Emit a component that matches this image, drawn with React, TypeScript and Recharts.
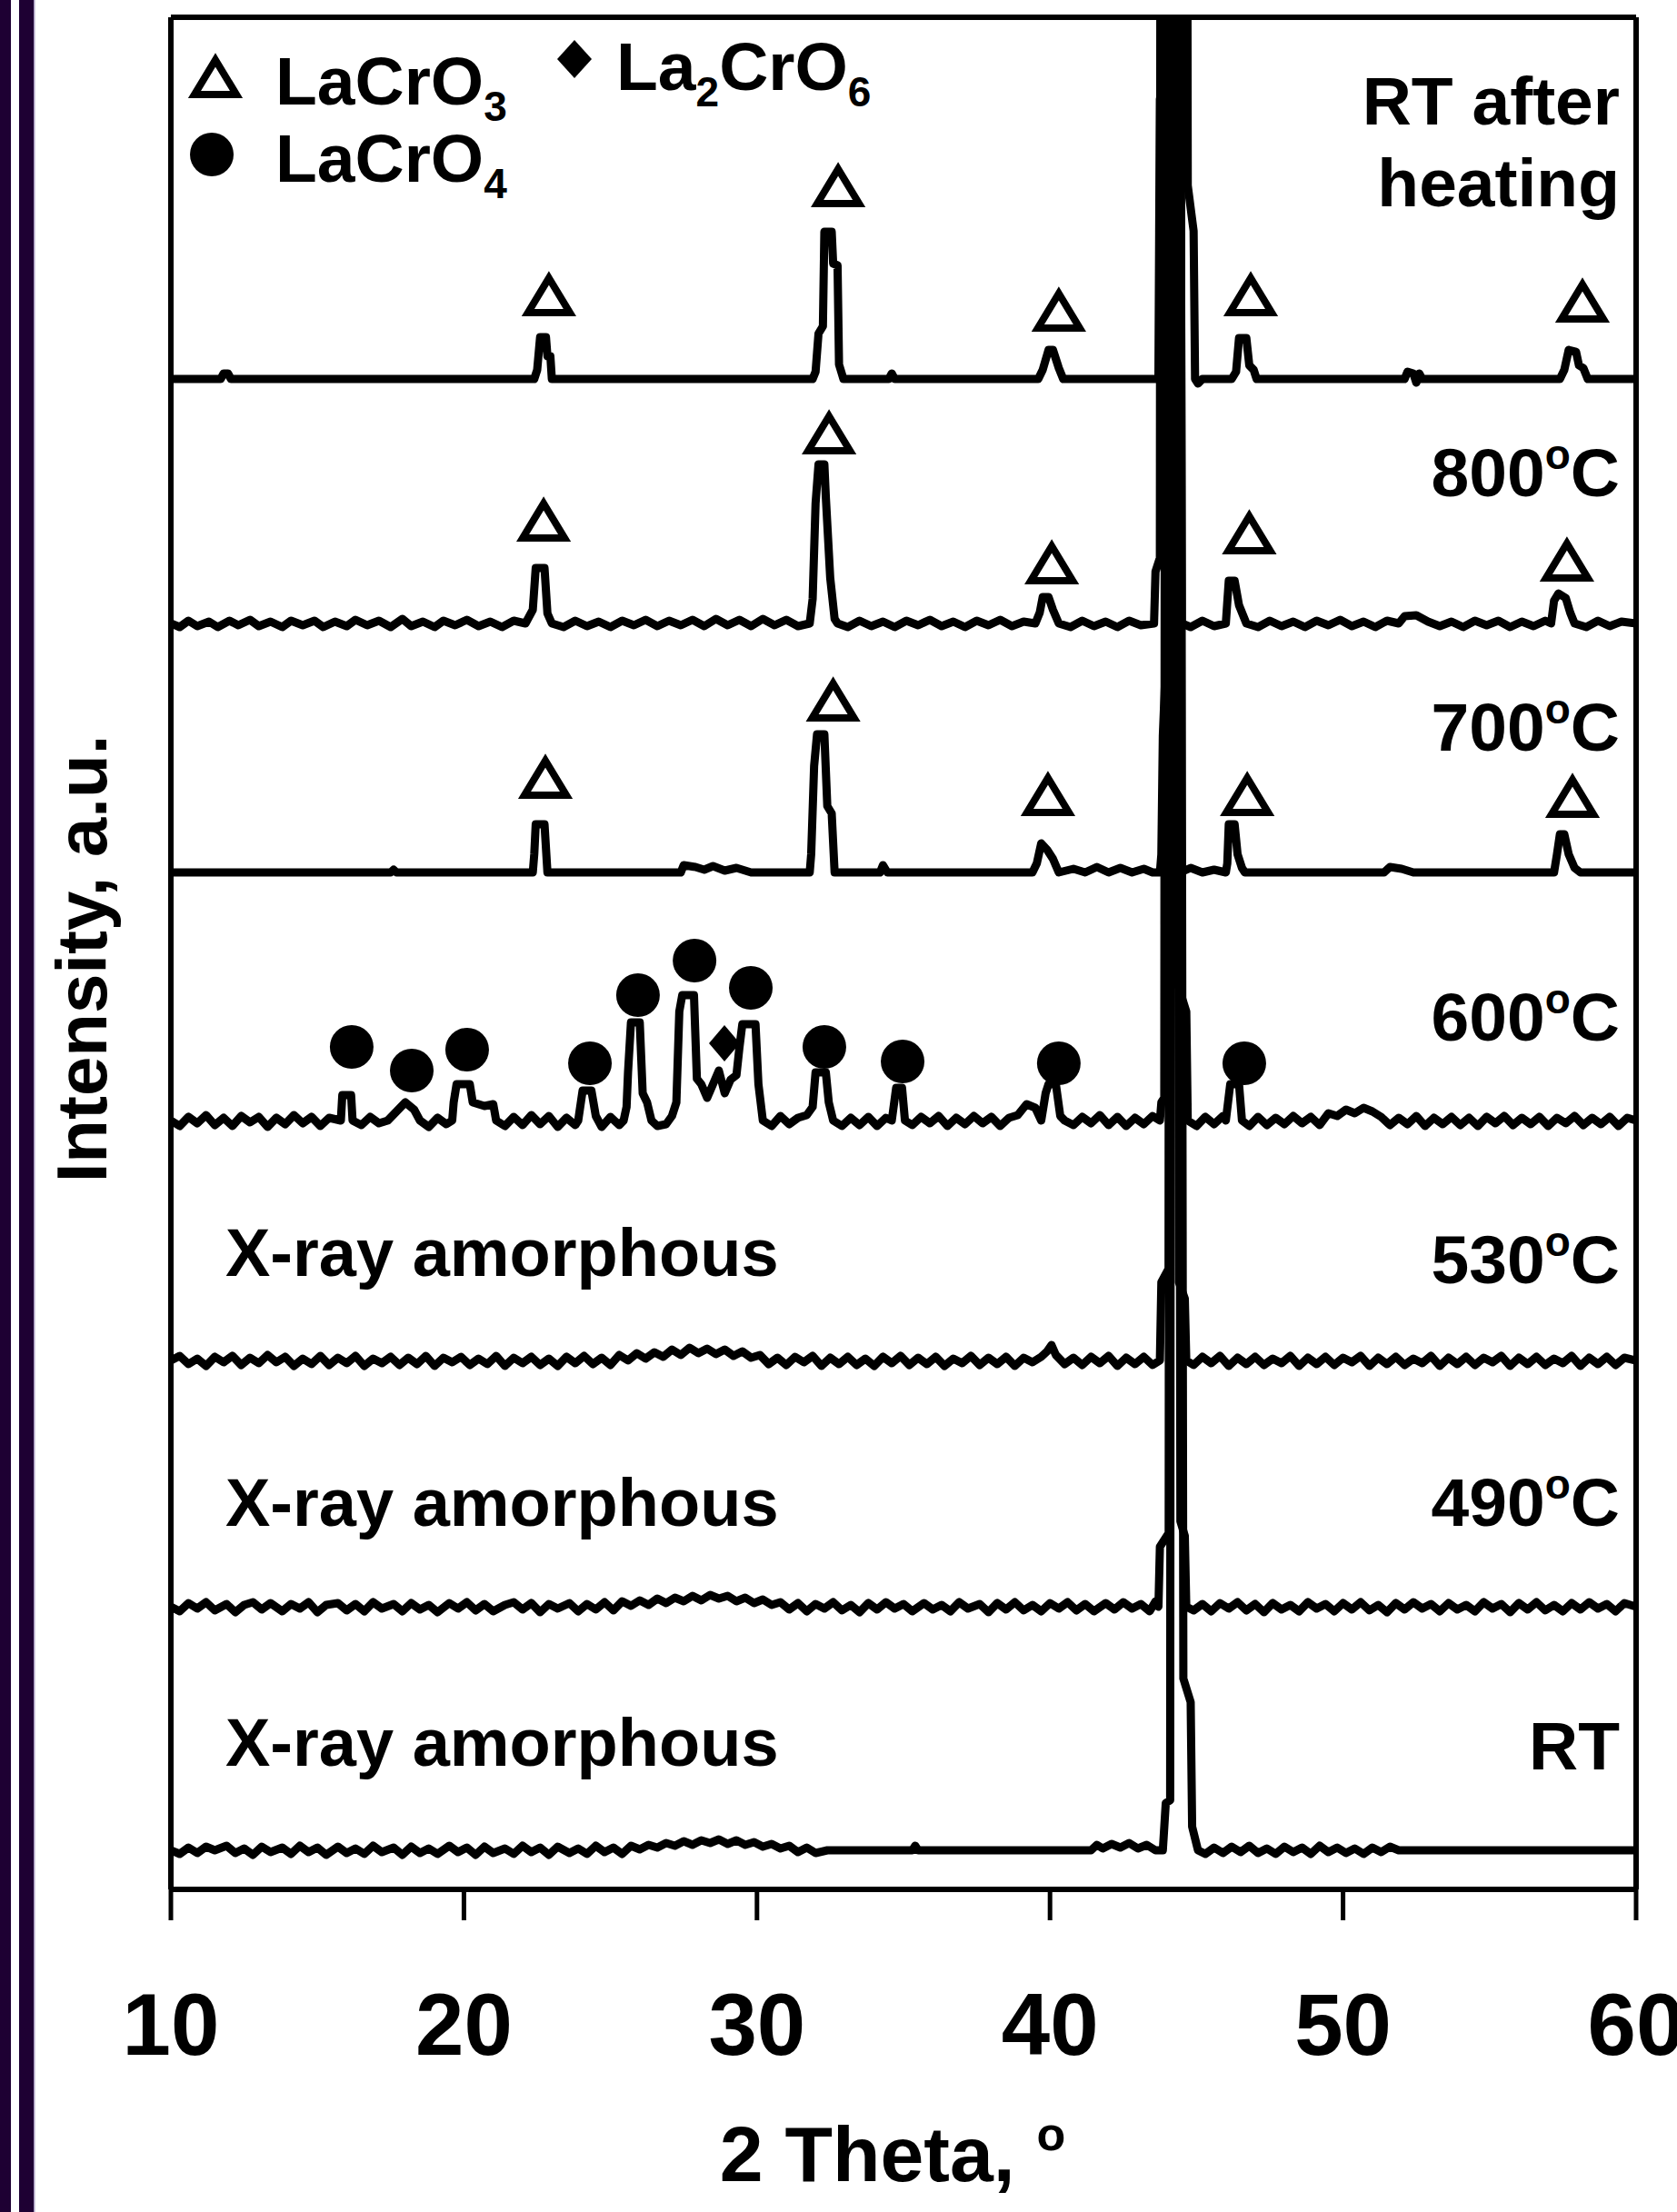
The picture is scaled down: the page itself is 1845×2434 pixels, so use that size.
import React from 'react';
import { ComposedChart, Line, Scatter, XAxis, YAxis, ReferenceLine } from 'recharts';

type Pt = [number, number];

const FONT = '"Liberation Sans", Arial, Helvetica, sans-serif';

const xTicks = [10, 20, 30, 40, 50, 60];

// baseline of each pattern above the 2θ axis (same a.u. as the intensities)
const offsetRtAfter = 1662;
const offset800 = 1393;
const offset700 = 1119;
const offset600 = 846;
const offset530 = 582;
const offset490 = 311;
const offsetRt = 43;

// [2θ, intensity above its own baseline]
const rtAfterHeating: Pt[] = [
  [10, 0], [11, 0], [11.7, 0], [11.8, 6], [11.95, 6], [12.05, 0], [14, 0], [16, 0], [18, 0], [20, 0], [22, 0],
  [22.4, 0], [22.5, 10], [22.6, 46], [22.8, 46], [22.85, 25], [22.95, 25], [23.0, 0], [25, 0], [27, 0], [29, 0],
  [31, 0], [31.9, 0], [32.0, 8], [32.1, 50], [32.25, 58], [32.3, 162], [32.55, 162], [32.6, 127], [32.75, 125],
  [32.8, 16], [32.95, 0], [34.5, 0], [34.6, 6], [34.7, 0], [36, 0], [38, 0], [39.6, 0], [39.75, 10], [39.95, 32],
  [40.1, 32], [40.3, 12], [40.45, 0], [42, 0], [43.7, 0], [43.75, 308], [44.05, 319], [44.1, 2200], [44.6, 2200],
  [44.7, 213], [44.9, 163], [44.95, 0], [45.05, -5], [45.2, 0], [46.2, 0], [46.35, 8], [46.45, 45], [46.7, 45],
  [46.8, 15], [46.95, 10], [47.05, 0], [48, 0], [50, 0], [52.1, 0], [52.2, 8], [52.4, 6], [52.5, -4], [52.6, 6],
  [52.7, 0], [54, 0], [56, 0], [57.4, 0], [57.55, 10], [57.7, 32], [57.95, 30], [58.05, 15], [58.2, 12], [58.35, 0],
  [59, 0], [60, 0],
];

const heated800: Pt[] = [
  [10, 0], [10.3, -4], [10.6, 3], [10.9, -3], [11.3, 2], [11.6, -4], [12.0, 3], [12.3, -2], [12.7, 4], [13.0, -3],
  [13.4, 2], [13.8, -4], [14.1, 3], [14.5, -2], [14.9, 3], [15.2, -4], [15.6, 2], [16.0, -3], [16.3, 4], [16.7, -2],
  [17.1, 3], [17.5, -4], [17.9, 5], [18.2, -3], [18.6, 2], [19.0, -4], [19.3, 3], [19.7, -2], [20.1, 4], [20.5, -3],
  [20.9, 2], [21.3, -4], [21.7, 3], [22.1, 0], [22.35, 15], [22.45, 61], [22.75, 61], [22.85, 11], [23.0, 0],
  [23.4, -4], [23.8, 3], [24.2, -3], [24.6, 2], [25.0, -4], [25.4, 3], [25.8, -2], [26.2, 4], [26.6, -3], [27.0, 3],
  [27.4, -2], [27.8, 4], [28.2, -3], [28.6, 5], [29.0, -2], [29.4, 4], [29.8, -3], [30.2, 5], [30.6, -2], [31.0, 4],
  [31.4, -3], [31.8, 0], [31.9, 27], [32.0, 132], [32.1, 175], [32.3, 175], [32.35, 139], [32.5, 50], [32.65, 5],
  [32.75, 0], [33.1, -4], [33.5, 3], [33.9, -3], [34.3, 2], [34.7, -4], [35.1, 3], [35.5, -2], [35.9, 4], [36.3, -3],
  [36.7, 2], [37.1, -4], [37.5, 3], [37.9, -2], [38.3, 4], [38.7, -3], [39.1, 2], [39.5, 0], [39.65, 12], [39.75, 29],
  [39.95, 29], [40.1, 15], [40.3, 0], [40.7, -4], [41.1, 3], [41.5, -3], [41.9, 2], [42.3, -4], [42.7, 3], [43.1, -2],
  [43.55, 0], [43.6, 57], [43.75, 72], [43.8, 2200], [44.35, 2200], [44.5, 0], [44.8, -4], [45.2, 3], [45.6, -3],
  [46.0, 0], [46.1, 47], [46.3, 47], [46.45, 20], [46.6, 8], [46.7, 0], [47.1, -4], [47.5, 3], [47.9, -3], [48.3, 2],
  [48.7, -4], [49.1, 3], [49.5, -2], [49.9, 4], [50.3, -3], [50.7, 2], [51.1, -4], [51.5, 3], [51.9, 0], [52.1, 8],
  [52.5, 9], [52.9, 2], [53.3, -3], [53.7, 2], [54.1, -4], [54.5, 3], [54.9, -2], [55.3, 3], [55.7, -4], [56.1, 2],
  [56.5, -3], [56.9, 3], [57.1, 0], [57.2, 25], [57.35, 33], [57.6, 28], [57.75, 12], [57.9, 0], [58.3, -4],
  [58.7, 3], [59.1, -3], [59.5, 2], [60, 0],
];

const heated700: Pt[] = [
  [10, 0], [12, 0], [14, 0], [16, 0], [17.5, 0], [17.6, 3], [17.7, 0], [19, 0], [21, 0], [22.35, 0], [22.4, 20],
  [22.45, 53], [22.75, 53], [22.85, 0], [24, 0], [26, 0], [27.4, 0], [27.5, 8], [27.9, 6], [28.2, 3], [28.5, 7],
  [28.9, 2], [29.3, 5], [29.8, 0], [31, 0], [31.8, 0], [31.85, 20], [31.95, 117], [32.05, 152], [32.3, 152],
  [32.4, 73], [32.55, 65], [32.65, 0], [34.2, 0], [34.3, 8], [34.45, 0], [36, 0], [38, 0], [39.4, 0], [39.55, 10],
  [39.7, 32], [39.9, 25], [40.1, 15], [40.3, 0], [40.8, 4], [41.2, 0], [41.6, 6], [42.0, 0], [42.4, 5], [42.8, 0],
  [43.2, 4], [43.5, 0], [43.75, 0], [43.8, 20], [43.85, 150], [44.0, 270], [44.05, 2200], [44.3, 2200], [44.45, 0],
  [44.8, 5], [45.2, 0], [45.6, 3], [46.0, 0], [46.05, 10], [46.1, 53], [46.3, 53], [46.4, 20], [46.55, 5],
  [46.65, 0], [48, 0], [50, 0], [51.4, 0], [51.6, 6], [52.0, 4], [52.4, 0], [54, 0], [56, 0], [57.2, 0], [57.3, 20],
  [57.4, 42], [57.55, 42], [57.7, 20], [57.9, 5], [58.1, 0], [59, 0], [60, 0],
];

const heated600: Pt[] = [
  [10, 0], [10.3, -6], [10.6, 4], [10.9, -3], [11.2, 6], [11.5, -5], [11.8, 3], [12.1, -6], [12.4, 5], [12.7, -2],
  [13.0, 4], [13.3, -7], [13.6, 3], [13.9, -4], [14.2, 6], [14.5, -3], [14.8, 4], [15.1, -6], [15.4, 3], [15.8, 0],
  [15.85, 28], [16.15, 28], [16.2, 0], [16.5, -5], [16.8, 4], [17.1, -3], [17.4, 0], [17.7, 10], [18.0, 20],
  [18.3, 12], [18.5, 0], [18.8, -7], [19.1, 3], [19.4, -4], [19.6, 0], [19.65, 20], [19.75, 40], [20.2, 40],
  [20.3, 20], [20.7, 16], [21.0, 18], [21.1, 0], [21.4, -6], [21.7, 4], [22.0, -5], [22.3, 6], [22.6, -4], [22.9, 5],
  [23.2, -7], [23.5, 3], [23.8, -5], [23.9, 0], [24.05, 33], [24.35, 33], [24.5, 5], [24.7, -7], [25.0, 4],
  [25.3, -5], [25.45, 0], [25.55, 15], [25.6, 53], [25.7, 108], [26.0, 108], [26.1, 30], [26.25, 20], [26.4, 0],
  [26.6, -6], [26.9, -4], [27.1, 5], [27.25, 20], [27.35, 120], [27.45, 138], [27.85, 138], [27.95, 46], [28.1, 40],
  [28.3, 25], [28.5, 40], [28.7, 55], [28.9, 30], [29.1, 45], [29.3, 50], [29.4, 80], [29.5, 106], [29.95, 106],
  [30.05, 40], [30.2, 0], [30.5, -6], [30.8, 5], [31.1, -4], [31.4, 3], [31.7, 6], [31.9, 15], [32.0, 53],
  [32.35, 53], [32.45, 20], [32.6, 0], [32.9, -6], [33.2, 3], [33.5, -5], [33.8, 4], [34.1, -6], [34.4, 3],
  [34.6, 0], [34.75, 36], [34.95, 36], [35.05, 0], [35.3, -5], [35.6, 4], [35.9, -3], [36.2, 5], [36.5, -6],
  [36.8, 3], [37.1, -4], [37.4, 5], [37.7, -3], [38.0, 4], [38.3, -6], [38.6, 3], [38.9, 6], [39.2, 18], [39.5, 14],
  [39.7, 0], [39.85, 30], [39.95, 40], [40.2, 40], [40.35, 5], [40.5, 0], [40.8, -5], [41.1, 4], [41.4, -3],
  [41.7, 6], [42.0, -5], [42.3, 4], [42.6, -6], [42.9, 3], [43.2, -4], [43.5, 5], [43.75, 0], [43.8, 20],
  [43.9, 25], [43.95, 2200], [44.25, 2200], [44.3, 156], [44.65, 120], [44.7, 0], [45.0, -6], [45.3, 4], [45.6, -4],
  [45.9, 5], [46.0, 0], [46.15, 40], [46.45, 40], [46.55, 0], [46.8, -6], [47.1, 4], [47.4, -5], [47.7, 3],
  [48.0, -4], [48.3, 5], [48.6, -3], [48.9, 4], [49.2, -5], [49.5, 8], [49.8, 5], [50.1, 12], [50.4, 8], [50.7, 14],
  [51.0, 10], [51.3, 4], [51.6, -5], [51.9, 3], [52.2, -4], [52.5, 5], [52.8, -6], [53.1, 3], [53.4, -4], [53.7, 4],
  [54.0, -5], [54.3, 3], [54.6, -6], [54.9, 4], [55.2, -3], [55.5, 5], [55.8, -5], [56.1, 3], [56.4, -4], [56.7, 4],
  [57.0, -6], [57.3, 3], [57.6, -3], [57.9, 5], [58.2, -5], [58.5, 3], [58.8, -4], [59.1, 4], [59.4, -6], [59.7, 3],
  [60, 0],
];

const heated530: Pt[] = [
  [10, 0], [10.3, 5], [10.6, -4], [10.9, 2], [11.2, -6], [11.5, 4], [11.8, -2], [12.1, 5], [12.4, -5], [12.7, 3],
  [13.0, -3], [13.3, 6], [13.6, -2], [13.9, 4], [14.2, -6], [14.5, 2], [14.8, -4], [15.1, 5], [15.4, -5], [15.7, 3],
  [16.0, -3], [16.3, 5], [16.6, -6], [16.9, 2], [17.2, -3], [17.5, 4], [17.8, -5], [18.1, 3], [18.4, -4], [18.7, 5],
  [19.0, -6], [19.3, 3], [19.6, -2], [19.9, 4], [20.2, -5], [20.5, 2], [20.8, -4], [21.1, 5], [21.4, -6], [21.7, 3],
  [22.0, -3], [22.3, 4], [22.6, -5], [22.9, 2], [23.2, -6], [23.5, 4], [23.8, -3], [24.1, 5], [24.4, -4], [24.7, 3],
  [25.0, -5], [25.3, 6], [25.6, 0], [25.9, 8], [26.2, 2], [26.5, 9], [26.8, 4], [27.1, 12], [27.4, 6], [27.7, 14],
  [28.0, 8], [28.3, 13], [28.6, 7], [28.9, 12], [29.2, 5], [29.5, 10], [29.8, 3], [30.1, 6], [30.4, -4], [30.7, 3],
  [31.0, -5], [31.3, 4], [31.6, -2], [31.9, 5], [32.2, -6], [32.5, 3], [32.8, -4], [33.1, 4], [33.4, -5], [33.7, 2],
  [34.0, -6], [34.3, 4], [34.6, -3], [34.9, 5], [35.2, -5], [35.5, 3], [35.8, -4], [36.1, 4], [36.4, -6], [36.7, 2],
  [37.0, -3], [37.3, 5], [37.6, -5], [37.9, 3], [38.2, -4], [38.5, 4], [38.8, -6], [39.1, 3], [39.4, -2], [39.7, 4],
  [39.9, 10], [40.05, 17], [40.2, 6], [40.5, -4], [40.8, 3], [41.1, -5], [41.4, 4], [41.7, -3], [42.0, 5], [42.3, -6],
  [42.6, 3], [42.9, -4], [43.2, 4], [43.5, -5], [43.75, 0], [43.8, 86], [44.05, 101], [44.1, 2200], [44.3, 2200],
  [44.4, 86], [44.6, 68], [44.65, 0], [44.9, -5], [45.2, 4], [45.5, -3], [45.8, 5], [46.1, -6], [46.4, 3], [46.7, -4],
  [47.0, 4], [47.3, -5], [47.6, 2], [47.9, -3], [48.2, 5], [48.5, -6], [48.8, 3], [49.1, -4], [49.4, 4], [49.7, -5],
  [50.0, 3], [50.3, -2], [50.6, 5], [50.9, -6], [51.2, 3], [51.5, -4], [51.8, 4], [52.1, -5], [52.4, 2], [52.7, -3],
  [53.0, 5], [53.3, -6], [53.6, 3], [53.9, -4], [54.2, 4], [54.5, -5], [54.8, 3], [55.1, -2], [55.4, 5], [55.7, -6],
  [56.0, 3], [56.3, -4], [56.6, 4], [56.9, -5], [57.2, 2], [57.5, -3], [57.8, 5], [58.1, -6], [58.4, 3], [58.7, -4],
  [59.0, 4], [59.3, -5], [59.6, 3], [60, 0],
];

const heated490: Pt[] = [
  [10, 0], [10.3, -5], [10.6, 4], [10.9, -2], [11.2, 5], [11.5, -4], [11.9, 3], [12.2, -6], [12.5, 2], [12.8, 5],
  [13.1, -3], [13.4, 4], [13.8, -5], [14.1, 3], [14.4, -2], [14.7, 5], [15.0, -6], [15.3, 2], [15.7, 4], [16.0, -4],
  [16.3, 3], [16.6, -5], [16.9, 5], [17.2, -2], [17.6, 3], [17.9, -5], [18.2, 4], [18.5, -3], [18.8, 2], [19.1, -6],
  [19.5, 4], [19.8, -2], [20.1, 5], [20.4, -4], [20.7, 3], [21.0, -5], [21.4, 2], [21.7, 5], [22.0, -3], [22.3, 4],
  [22.6, -6], [22.9, 3], [23.2, -2], [23.6, 4], [23.9, -5], [24.2, 3], [24.5, -3], [24.8, 5], [25.1, -4], [25.4, 6],
  [25.7, 1], [26.0, 7], [26.3, 2], [26.6, 9], [26.9, 4], [27.2, 10], [27.5, 6], [27.8, 12], [28.1, 7], [28.4, 13],
  [28.7, 9], [29.0, 12], [29.3, 6], [29.6, 10], [29.9, 4], [30.2, 8], [30.5, 2], [30.8, 5], [31.1, -3], [31.4, 4],
  [31.7, -5], [32.0, 3], [32.3, -2], [32.6, 5], [32.9, -4], [33.2, 2], [33.5, -6], [33.8, 4], [34.1, -3], [34.4, 5],
  [34.7, -2], [35.0, 3], [35.3, -5], [35.7, 4], [36.0, -3], [36.3, 2], [36.6, -5], [36.9, 5], [37.2, -2], [37.6, 3],
  [37.9, -6], [38.2, 4], [38.5, -3], [38.8, 5], [39.1, -4], [39.4, 2], [39.7, -5], [40.0, 4], [40.3, -2], [40.6, 5],
  [40.9, -4], [41.2, 3], [41.5, -5], [41.9, 4], [42.2, -3], [42.5, 5], [42.8, -2], [43.1, 3], [43.4, -5], [43.6, 6],
  [43.7, 0], [43.75, 66], [44.05, 81], [44.1, 2200], [44.35, 2200], [44.45, 94], [44.6, 78], [44.65, 0], [44.9, -4],
  [45.2, 3], [45.5, -5], [45.8, 4], [46.1, -2], [46.4, 5], [46.7, -4], [47.0, 3], [47.3, -6], [47.6, 4], [47.9, -3],
  [48.2, 2], [48.5, -5], [48.8, 5], [49.1, -2], [49.4, 3], [49.7, -5], [50.0, 4], [50.3, -3], [50.6, 5], [50.9, -4],
  [51.2, 2], [51.5, -6], [51.8, 4], [52.1, -3], [52.4, 5], [52.7, -2], [53.0, 3], [53.3, -5], [53.6, 4], [53.9, -3],
  [54.2, 2], [54.5, -5], [54.8, 5], [55.1, -2], [55.4, 3], [55.7, -6], [56.0, 4], [56.3, -3], [56.6, 5], [56.9, -4],
  [57.2, 2], [57.5, -5], [57.8, 4], [58.1, -3], [58.4, 5], [58.7, -2], [59.0, 3], [59.3, -5], [59.6, 4], [60, 0],
];

const roomTemp: Pt[] = [
  [10, 0], [10.3, -4], [10.6, 3], [10.9, -3], [11.2, 4], [11.5, 0], [11.9, 5], [12.2, -3], [12.5, 2], [12.8, -5],
  [13.1, 4], [13.4, -2], [13.8, 3], [14.1, -4], [14.4, 5], [14.7, -2], [15.0, 3], [15.3, -5], [15.7, 4], [16.0, -3],
  [16.3, 2], [16.6, -4], [16.9, 5], [17.2, -2], [17.6, 3], [17.9, -5], [18.2, 4], [18.5, -3], [18.8, 2], [19.1, -4],
  [19.5, 5], [19.8, -2], [20.1, 3], [20.4, -5], [20.7, 4], [21.0, -3], [21.4, 2], [21.7, -4], [22.0, 5], [22.3, -2],
  [22.6, 3], [22.9, -5], [23.2, 4], [23.6, -3], [23.9, 2], [24.2, -4], [24.5, 5], [24.8, -2], [25.1, 3], [25.4, -4],
  [25.7, 5], [26.0, 1], [26.3, 6], [26.6, 3], [26.9, 8], [27.2, 5], [27.5, 10], [27.8, 6], [28.1, 11], [28.4, 8],
  [28.7, 12], [29.0, 7], [29.3, 11], [29.6, 6], [29.9, 9], [30.2, 4], [30.5, 7], [30.8, 2], [31.1, 5], [31.4, -2],
  [31.7, 3], [32.0, -3], [32.4, 0], [33, 0], [34, 0], [35.3, 0], [35.4, 5], [35.5, 0], [37, 0], [39, 0], [41.4, 0],
  [41.6, 6], [41.8, 2], [42.1, 7], [42.4, 3], [42.7, 8], [43.0, 2], [43.3, 6], [43.6, 0], [43.85, 0], [43.95, 52],
  [44.1, 55], [44.15, 2200], [44.45, 2200], [44.55, 189], [44.8, 163], [44.85, 26], [45.05, 0], [45.3, -4],
  [45.6, 3], [45.9, -3], [46.2, 4], [46.5, -2], [46.8, 5], [47.1, -3], [47.4, 2], [47.7, -4], [48.0, 4], [48.3, -2],
  [48.6, 3], [48.9, -4], [49.2, 5], [49.5, -2], [49.8, 3], [50.1, -3], [50.4, 2], [50.7, -4], [51.0, 3], [51.3, -2],
  [51.6, 4], [51.9, 0], [53, 0], [55, 0], [57, 0], [59, 0], [60, 0],
];

// peak markers, [2θ, height above axis]
const lacro3Marks: Pt[] = [
  [22.9, 1754], [32.77, 1874], [40.3, 1737], [46.85, 1754], [58.17, 1747],
  [22.72, 1506], [32.46, 1602], [40.06, 1459], [46.8, 1492], [57.64, 1462],
  [22.78, 1223], [32.6, 1308], [39.93, 1204], [46.73, 1204], [57.83, 1202],
];
const lacro4Marks: Pt[] = [
  [16.17, 927], [18.22, 901], [20.11, 924], [24.3, 909], [25.94, 984], [27.87, 1022],
  [29.79, 992], [32.3, 927], [34.97, 911], [40.3, 909], [46.63, 909],
];
const la2cro6Marks: Pt[] = [[28.89, 931]];

const patterns = [
  { name: 'RT after heating', points: rtAfterHeating, offset: offsetRtAfter },
  { name: '800', points: heated800, offset: offset800 },
  { name: '700', points: heated700, offset: offset700 },
  { name: '600', points: heated600, offset: offset600 },
  { name: '530', points: heated530, offset: offset530 },
  { name: '490', points: heated490, offset: offset490 },
  { name: 'RT', points: roomTemp, offset: offsetRt },
];

const toSeries = (pts: Pt[], offset: number) => pts.map(([x, y]) => ({ x, y: y + offset }));
const toMarks = (pts: Pt[]) => pts.map(([x, y]) => ({ x, y }));

const TriangleMark = (props: any) => {
  const { cx, cy } = props;
  return (
    <path
      d={`M${cx},${cy - 19} L${cx + 23},${cy + 19} L${cx - 23},${cy + 19} Z`}
      fill="none"
      stroke="#000"
      strokeWidth={8}
    />
  );
};

const CircleMark = (props: any) => <circle cx={props.cx} cy={props.cy} r={24} fill="#000" />;

const DiamondMark = (props: any) => {
  const { cx, cy } = props;
  return <path d={`M${cx},${cy - 20} L${cx + 17},${cy} L${cx},${cy + 20} L${cx - 17},${cy} Z`} fill="#000" />;
};

const XTick = (props: any) => {
  const { x, y, payload } = props;
  return (
    <text x={x} y={y + 146} textAnchor="middle" fontSize={96} fontWeight="bold" fontFamily={FONT} fill="#000">
      {payload.value}
    </text>
  );
};

const tempLabel = (t: string, y: number) => (
  <text x={1782} y={y} textAnchor="end">
    {t}
    <tspan dy={-30} fontSize={46}>o</tspan>
    <tspan dy={30}>C</tspan>
  </text>
);

export default function App() {
  return (
    <div style={{ position: 'absolute', left: 0, top: 0, width: 1845, height: 2434, background: '#fff' }}>
      <ComposedChart width={1845} height={2434} margin={{ top: 19, right: 45, bottom: 0, left: 188 }}>
        <XAxis
          type="number"
          dataKey="x"
          domain={[10, 60]}
          ticks={xTicks}
          interval={0}
          height={355}
          tickSize={34}
          axisLine={{ stroke: '#000', strokeWidth: 6 }}
          tickLine={{ stroke: '#000', strokeWidth: 5 }}
          tick={XTick}
          allowDataOverflow
        />
        <YAxis type="number" dataKey="y" domain={[0, 2060]} hide allowDataOverflow />
        <ReferenceLine y={2060} stroke="#000" strokeWidth={6} />
        <ReferenceLine x={10} stroke="#000" strokeWidth={6} />
        <ReferenceLine x={60} stroke="#000" strokeWidth={6} />
        {patterns.map((p) => (
          <Line
            key={p.name}
            data={toSeries(p.points, p.offset)}
            dataKey="y"
            type="linear"
            stroke="#000"
            strokeWidth={9}
            strokeLinejoin="round"
            dot={false}
            isAnimationActive={false}
          />
        ))}
        <Scatter data={toMarks(lacro3Marks)} shape={TriangleMark} isAnimationActive={false} />
        <Scatter data={toMarks(lacro4Marks)} shape={CircleMark} isAnimationActive={false} />
        <Scatter data={toMarks(la2cro6Marks)} shape={DiamondMark} isAnimationActive={false} />
      </ComposedChart>

      <svg
        width={1845}
        height={2434}
        style={{ position: 'absolute', left: 0, top: 0, pointerEvents: 'none' }}
      >
        <rect x={0} y={0} width={12} height={2434} fill="#1e0033" />
        <rect x={21} y={0} width={16} height={2434} fill="#1e0033" />
        <rect x={37} y={0} width={1.5} height={2434} fill="#a89cbf" />

        <g fontFamily={FONT} fontWeight="bold" fill="#000">
          {/* legend */}
          <path d="M237,66 L260,104 L214,104 Z" fill="none" stroke="#000" strokeWidth={8} />
          <text x={303} y={115} fontSize={75}>
            LaCrO<tspan dy={18} fontSize={46}>3</tspan>
          </text>
          <circle cx={233} cy={170} r={24} fill="#000" />
          <text x={303} y={200} fontSize={75}>
            LaCrO<tspan dy={18} fontSize={46}>4</tspan>
          </text>
          <path d="M632,44 L651,65 L632,86 L613,65 Z" fill="#000" />
          <text x={678} y={99} fontSize={75}>
            La<tspan dy={18} fontSize={46}>2</tspan>
            <tspan dy={-18}>CrO</tspan>
            <tspan dy={18} fontSize={46}>6</tspan>
          </text>

          {/* sample labels */}
          <g fontSize={75}>
            <text x={1782} y={137} textAnchor="end">RT after</text>
            <text x={1782} y={227} textAnchor="end">heating</text>
            {tempLabel('800', 546)}
            {tempLabel('700', 826)}
            {tempLabel('600', 1145)}
            {tempLabel('530', 1412)}
            {tempLabel('490', 1679)}
            <text x={1782} y={1947} textAnchor="end">RT</text>
          </g>
          <g fontSize={74}>
            <text x={248} y={1404}>X-ray amorphous</text>
            <text x={248} y={1679}>X-ray amorphous</text>
            <text x={248} y={1943}>X-ray amorphous</text>
          </g>

          {/* axis titles */}
          <text x={982} y={2400} fontSize={86} textAnchor="middle">
            2 Theta, <tspan dy={-34} fontSize={52}>o</tspan>
          </text>
          <text transform="translate(117,1055) rotate(-90)" fontSize={78} textAnchor="middle">
            Intensity, a.u.
          </text>
        </g>
      </svg>
    </div>
  );
}
